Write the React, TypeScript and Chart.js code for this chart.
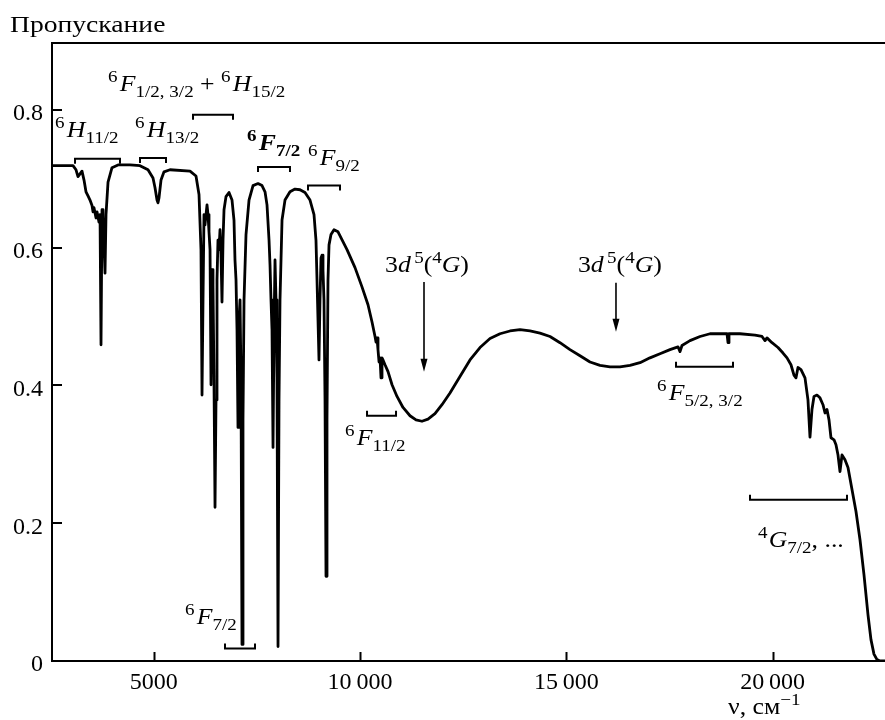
import React, { useEffect, useRef } from 'react';
import { Chart, registerables } from 'chart.js';

Chart.register(...registerables);

// ---- data ----
const wavenumbers = [2535,3044,3117,3165,3214,3262,3311,3359,3408,3456,3505,3529,3553,3602,3626,3674,3699,3723,3747,3771,3820,3844,3893,3989,4135,4426,4668,4862,4983,5032,5080,5104,5128,5177,5250,5395,5880,6025,6098,6146,6171,6195,6219,6243,6268,6292,6316,6340,6365,6389,6413,6437,6461,6486,6510,6534,6558,6583,6607,6631,6655,6680,6704,6752,6825,6898,6946,6970,6995,7019,7043,7067,7092,7116,7140,7164,7189,7237,7310,7407,7528,7625,7698,7746,7795,7819,7843,7867,7892,7916,7940,7964,7988,8013,8037,8061,8110,8182,8303,8425,8546,8667,8788,8885,8933,8958,8982,9006,9030,9055,9079,9103,9127,9152,9176,9200,9224,9249,9297,9370,9467,9685,9879,10048,10194,10291,10364,10388,10412,10436,10461,10485,10509,10533,10558,10606,10679,10776,10897,11042,11212,11357,11502,11648,11817,11987,12181,12423,12666,12908,13151,13393,13635,13878,14120,14362,14605,14847,15089,15332,15574,15817,16059,16301,16544,16786,17028,17271,17513,17707,17756,17804,17998,18241,18483,18725,18895,18919,18943,19210,19573,19743,19816,19864,19985,20131,20252,20349,20445,20518,20567,20615,20688,20785,20857,20906,20954,21003,21075,21148,21221,21270,21318,21367,21415,21488,21536,21585,21633,21682,21754,21827,21924,22021,22118,22215,22312,22384,22457,22530,22602,22724];

const transmission = [0.719,0.719,0.713,0.703,0.707,0.711,0.698,0.681,0.675,0.669,0.661,0.652,0.658,0.643,0.652,0.637,0.648,0.459,0.655,0.648,0.563,0.648,0.695,0.716,0.720,0.720,0.719,0.713,0.701,0.687,0.669,0.665,0.672,0.698,0.710,0.713,0.711,0.704,0.677,0.597,0.386,0.524,0.648,0.633,0.648,0.662,0.648,0.623,0.597,0.401,0.568,0.546,0.408,0.223,0.379,0.553,0.611,0.597,0.626,0.590,0.521,0.611,0.655,0.674,0.680,0.669,0.640,0.582,0.553,0.481,0.339,0.495,0.524,0.408,0.024,0.350,0.524,0.619,0.669,0.690,0.693,0.690,0.681,0.662,0.611,0.575,0.524,0.481,0.310,0.481,0.582,0.524,0.408,0.021,0.379,0.524,0.640,0.669,0.681,0.685,0.684,0.680,0.669,0.648,0.611,0.553,0.495,0.437,0.524,0.585,0.589,0.567,0.524,0.379,0.123,0.350,0.553,0.604,0.619,0.626,0.623,0.597,0.571,0.543,0.517,0.492,0.471,0.463,0.469,0.452,0.434,0.440,0.411,0.440,0.437,0.430,0.420,0.401,0.384,0.368,0.356,0.350,0.348,0.351,0.359,0.372,0.389,0.413,0.437,0.455,0.468,0.475,0.479,0.481,0.479,0.476,0.471,0.462,0.452,0.443,0.434,0.429,0.427,0.427,0.429,0.433,0.440,0.446,0.452,0.456,0.449,0.458,0.465,0.471,0.475,0.475,0.475,0.462,0.475,0.475,0.473,0.471,0.465,0.469,0.462,0.455,0.447,0.440,0.430,0.415,0.411,0.426,0.423,0.411,0.379,0.325,0.365,0.384,0.386,0.382,0.372,0.360,0.365,0.350,0.324,0.321,0.314,0.299,0.275,0.299,0.292,0.281,0.249,0.217,0.176,0.125,0.067,0.031,0.010,0.002,0.000,0.000];

const xTickValues = [5000, 10000, 15000, 20000];
const xTickLabels = ['5000', '10\u2009000', '15\u2009000', '20\u2009000'];
const yTickValues = [0, 0.2, 0.4, 0.6, 0.8];
const yTickLabels = ['0', '0.2', '0.4', '0.6', '0.8'];

const xRange = [2535, 22724];
const yRange = [0, 0.897];

const yTitle = 'Пропускание';

// term labels: [text, kind]; kind r=regular, i=italic, bi=bold italic, sup/sub, bsup/bsub, g=gap(px)
type Seg = [string, string];
const termLabels: { x: number; y: number; segs: Seg[] }[] = [
  { x: 2608, y: 0.761, segs: [['6', 'sup'], ['2', 'g'], ['H', 'i'], ['11/2', 'sub']] },
  { x: 4547, y: 0.761, segs: [['6', 'sup'], ['2', 'g'], ['H', 'i'], ['13/2', 'sub']] },
  { x: 3892, y: 0.827, segs: [['6', 'sup'], ['2', 'g'], ['F', 'i'], ['1/2, 3/2', 'sub'], [' + ', 'r'], ['6', 'sup'], ['2', 'g'], ['H', 'i'], ['15/2', 'sub']] },
  { x: 7261, y: 0.742, segs: [['6', 'bsup'], ['2', 'g'], ['F', 'bi'], ['7/2', 'bsub']] },
  { x: 8740, y: 0.720, segs: [['6', 'sup'], ['2', 'g'], ['F', 'i'], ['9/2', 'sub']] },
  { x: 10606, y: 0.564, segs: [['3', 'r'], ['d', 'i'], ['3', 'g'], ['5', 'sup'], ['(', 'r'], ['4', 'sup'], ['G', 'i'], [')', 'r']] },
  { x: 15283, y: 0.564, segs: [['3', 'r'], ['d', 'i'], ['3', 'g'], ['5', 'sup'], ['(', 'r'], ['4', 'sup'], ['G', 'i'], [')', 'r']] },
  { x: 9636, y: 0.313, segs: [['6', 'sup'], ['2', 'g'], ['F', 'i'], ['11/2', 'sub']] },
  { x: 5759, y: 0.053, segs: [['6', 'sup'], ['2', 'g'], ['F', 'i'], ['7/2', 'sub']] },
  { x: 17198, y: 0.379, segs: [['6', 'sup'], ['2', 'g'], ['F', 'i'], ['5/2, 3/2', 'sub']] },
  { x: 19646, y: 0.165, segs: [['4', 'sup'], ['1', 'g'], ['G', 'i'], ['7/2', 'sub'], [', ...', 'r']] },
];

// brackets: x1, x2 (cm^-1), y, dir (+1 ticks down, -1 ticks up)
const brackets = [
  { x1: 3093, x2: 4183, y: 0.729, dir: 1 },
  { x1: 4668, x2: 5298, y: 0.730, dir: 1 },
  { x1: 5953, x2: 6922, y: 0.793, dir: 1 },
  { x1: 7528, x2: 8303, y: 0.717, dir: 1 },
  { x1: 8740, x2: 9515, y: 0.690, dir: 1 },
  { x1: 6728, x2: 7455, y: 0.018, dir: -1 },
  { x1: 10170, x2: 10873, y: 0.356, dir: -1 },
  { x1: 17659, x2: 19040, y: 0.427, dir: -1 },
  { x1: 19452, x2: 21803, y: 0.234, dir: -1 },
];

const arrows = [
  { x: 11551, y1: 0.550, y2: 0.420 },
  { x: 16204, y1: 0.549, y2: 0.478 },
];

const FAMILY = '"Liberation Serif", "Times New Roman", serif';
const BASE = 23;
const SMALL = 17;
const STRETCH = 1.12;

const STYLES: Record<string, { font: string; dy: number }> = {
  r: { font: `${BASE}px ${FAMILY}`, dy: 0 },
  i: { font: `italic ${BASE}px ${FAMILY}`, dy: 0 },
  bi: { font: `italic bold ${BASE}px ${FAMILY}`, dy: 0 },
  sup: { font: `${SMALL}px ${FAMILY}`, dy: -9 },
  sub: { font: `${SMALL}px ${FAMILY}`, dy: 6 },
  bsup: { font: `bold ${SMALL}px ${FAMILY}`, dy: -9 },
  bsub: { font: `bold ${SMALL}px ${FAMILY}`, dy: 6 },
};

function drawRich(ctx: CanvasRenderingContext2D, segs: Seg[], x: number, y: number) {
  ctx.save();
  ctx.translate(x, y);
  ctx.scale(STRETCH, 1);
  ctx.textAlign = 'left';
  ctx.textBaseline = 'alphabetic';
  ctx.fillStyle = '#000';
  let cx = 0;
  for (const [text, kind] of segs) {
    if (kind === 'g') {
      cx += parseFloat(text);
      continue;
    }
    const st = STYLES[kind];
    ctx.font = st.font;
    ctx.fillText(text, cx, st.dy);
    cx += ctx.measureText(text).width;
  }
  ctx.restore();
}

const decorPlugin = {
  id: 'decor',
  afterDraw(chart: any) {
    const { ctx, chartArea: a, scales } = chart;
    const xs = scales.x;
    const ys = scales.y;
    ctx.save();
    ctx.strokeStyle = '#000';
    ctx.fillStyle = '#000';
    ctx.lineWidth = 2;
    ctx.lineCap = 'butt';
    // top frame line
    ctx.beginPath();
    ctx.moveTo(a.left - 1, a.top);
    ctx.lineTo(a.right, a.top);
    ctx.stroke();
    // inward ticks
    for (const t of xs.ticks) {
      const px = Math.round(xs.getPixelForValue(t.value)) + 0.5;
      ctx.beginPath();
      ctx.moveTo(px, a.bottom);
      ctx.lineTo(px, a.bottom - 9);
      ctx.stroke();
    }
    for (const t of ys.ticks) {
      const py = Math.round(ys.getPixelForValue(t.value));
      ctx.beginPath();
      ctx.moveTo(a.left, py);
      ctx.lineTo(a.left + 10, py);
      ctx.stroke();
    }
    // brackets
    for (const b of brackets) {
      const x1 = xs.getPixelForValue(b.x1);
      const x2 = xs.getPixelForValue(b.x2);
      const yy = ys.getPixelForValue(b.y);
      ctx.beginPath();
      ctx.moveTo(x1, yy + 5 * b.dir);
      ctx.lineTo(x1, yy);
      ctx.lineTo(x2, yy);
      ctx.lineTo(x2, yy + 5 * b.dir);
      ctx.stroke();
    }
    // arrows
    for (const ar of arrows) {
      const px = xs.getPixelForValue(ar.x);
      const p1 = ys.getPixelForValue(ar.y1);
      const p2 = ys.getPixelForValue(ar.y2);
      ctx.lineWidth = 1.6;
      ctx.beginPath();
      ctx.moveTo(px, p1);
      ctx.lineTo(px, p2 - 10);
      ctx.stroke();
      ctx.beginPath();
      ctx.moveTo(px, p2);
      ctx.lineTo(px - 3.5, p2 - 13);
      ctx.lineTo(px + 3.5, p2 - 13);
      ctx.closePath();
      ctx.fill();
    }
    // term labels
    for (const l of termLabels) {
      drawRich(ctx, l.segs, xs.getPixelForValue(l.x), ys.getPixelForValue(l.y));
    }
    // y title
    ctx.save();
    ctx.translate(10, 32);
    ctx.scale(1.2, 1);
    ctx.font = `${BASE}px ${FAMILY}`;
    ctx.textAlign = 'left';
    ctx.textBaseline = 'alphabetic';
    ctx.fillText(yTitle, 0, 0);
    ctx.restore();
    // x title: ν, см⁻¹
    drawRich(ctx, [['ν, см', 'r'], ['−1', 'sup']], 728, 714);
    ctx.restore();
  },
};

export default function App() {
  const ref = useRef<HTMLCanvasElement | null>(null);
  useEffect(() => {
    if (!ref.current) return;
    const n = Math.min(wavenumbers.length, transmission.length);
    const pts = [] as { x: number; y: number }[];
    for (let i = 0; i < n; i++) pts.push({ x: wavenumbers[i], y: transmission[i] });
    const tickFont = { family: FAMILY, size: 24 };
    const chart = new Chart(ref.current, {
      type: 'line',
      data: {
        datasets: [
          {
            data: pts,
            borderColor: '#000',
            borderWidth: 2.8,
            pointRadius: 0,
            tension: 0,
            borderJoinStyle: 'round',
            borderCapStyle: 'round',
            fill: false,
          } as any,
        ],
      },
      options: {
        animation: false,
        responsive: false,
        maintainAspectRatio: false,
        devicePixelRatio: 1,
        layout: { padding: { top: 43, left: 0, right: 0, bottom: 0 } },
        plugins: { legend: { display: false }, tooltip: { enabled: false }, title: { display: false } },
        scales: {
          x: {
            type: 'linear',
            min: xRange[0],
            max: xRange[1],
            grid: { display: false, drawTicks: false },
            border: { display: true, color: '#000', width: 2 },
            ticks: {
              color: '#000',
              font: tickFont,
              padding: 7,
              maxRotation: 0,
              autoSkip: false,
              callback: (_v: any, i: number) => xTickLabels[i] ?? '',
            },
            afterBuildTicks: (s: any) => {
              s.ticks = xTickValues.map((v) => ({ value: v }));
            },
            afterFit: (s: any) => {
              s.height = 59;
            },
          },
          y: {
            type: 'linear',
            min: yRange[0],
            max: yRange[1],
            grid: { display: false, drawTicks: false },
            border: { display: true, color: '#000', width: 2 },
            ticks: {
              color: '#000',
              font: tickFont,
              padding: 9,
              labelOffset: 4,
              autoSkip: false,
              callback: (_v: any, i: number) => yTickLabels[i] ?? '',
            },
            afterBuildTicks: (s: any) => {
              s.ticks = yTickValues.map((v) => ({ value: v }));
            },
            afterFit: (s: any) => {
              s.width = 52;
            },
          },
        },
      },
      plugins: [decorPlugin],
    });
    return () => chart.destroy();
  }, []);
  return (
    <div style={{ position: 'absolute', left: 0, top: 0, width: 885, height: 720, background: '#fff' }}>
      <canvas ref={ref} width={885} height={720} style={{ width: 885, height: 720, display: 'block' }} />
    </div>
  );
}
